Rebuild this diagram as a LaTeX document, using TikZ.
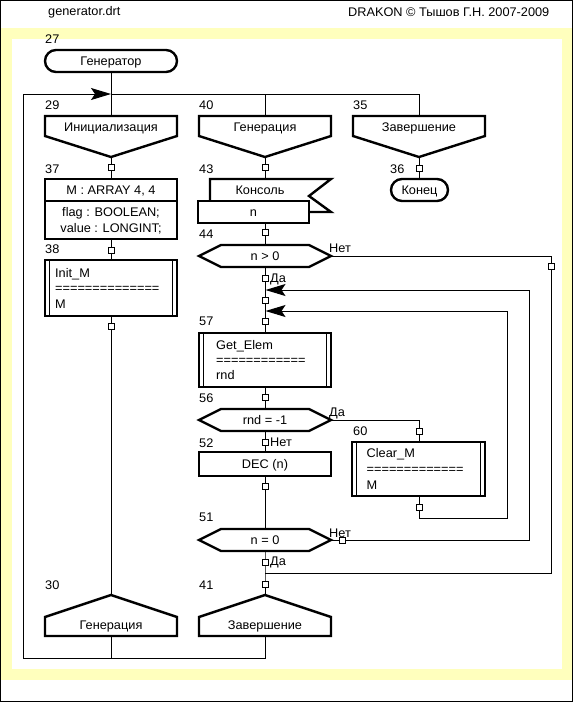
\documentclass[tikz,border=0pt]{standalone}
\usepackage{fontspec}
\setmainfont[FakeStretch=1.02]{Liberation Sans}
\usetikzlibrary{arrows.meta}
\definecolor{bandyellow}{HTML}{FFFFBD}
\tikzset{
  box/.style={draw, line width=2.4pt, fill=white, inner sep=0pt},
  shp/.style={draw, line width=2.4pt, fill=white, line join=miter},
  inner/.style={line width=1.4pt},
  wire/.style={draw, line width=1pt},
  txt/.style={inner sep=0pt, text height=8.95pt, text depth=0pt},
  ltxt/.style={inner sep=0pt, text height=8.95pt, text depth=0pt, anchor=west},
  num/.style={inner sep=0pt, anchor=base west},
  sq/.style={draw, line width=1pt, fill=white, minimum size=6pt, inner sep=0pt},
  arr/.style={-{Stealth[length=20pt,width=12pt,inset=4pt]}}
}
\begin{document}
\begin{tikzpicture}[x=1pt,y=-1pt,font=\fontsize{12.5}{16}\selectfont]
\useasboundingbox (0,0) rectangle (573,702);
% frame
\fill[bandyellow] (0,28) rectangle (573,680);
\fill[white] (12,39) rectangle (562,669);
\draw[line width=1pt] (0.5,0.5) rectangle (572.5,701.5);
\node[num] (title) at (48,15.5) {generator.drt};
\node[inner sep=0pt, anchor=base east] (copy) at (549.5,16.5) {DRAKON © Тышов Г.Н. 2007-2009};

% named points
\coordinate (j1) at (111,94);
\coordinate (j2) at (265,94);
\coordinate (j3) at (419,94);
\coordinate (jl) at (23,94);
\coordinate (bl) at (23,658);
\coordinate (b1) at (111,658);
\coordinate (b2) at (265,658);
\coordinate (h29b) at (111,157);
\coordinate (h40b) at (265,157);
\coordinate (h35b) at (419,157);
\coordinate (h29t) at (111,116);
\coordinate (h40t) at (265,116);
\coordinate (h35t) at (419,116);
\coordinate (a30t) at (111,595);
\coordinate (a41t) at (265,595);
\coordinate (a30b) at (111,636);
\coordinate (a41b) at (265,636);
\coordinate (k43t) at (265,179);
\coordinate (io43b) at (265,223);
\coordinate (q44t) at (265,245);
\coordinate (q44b) at (265,267);
\coordinate (q44r) at (331,256);
\coordinate (q56t) at (265,409);
\coordinate (q56b) at (265,431);
\coordinate (q56r) at (331,420);
\coordinate (q51t) at (265,529);
\coordinate (q51b) at (265,551);
\coordinate (q51r) at (331,540);
\coordinate (r1) at (551,256);
\coordinate (r1b) at (551,573);
\coordinate (m1) at (265,573);
\coordinate (r2) at (529,540);
\coordinate (r2t) at (529,290);
\coordinate (m2) at (265.5,290);
\coordinate (r3) at (507,518);
\coordinate (r3t) at (507,311);
\coordinate (m3) at (265.5,311);
\coordinate (c60) at (419,518);
\coordinate (d60) at (419,420);

% wires
\draw[wire] (111,72) -- (j1);
\draw[wire, arr] (a41b) -- (b2) -- (bl) -- (jl) -- (j1);
\draw[wire] (a30b) -- (b1);
\draw[wire] (j1) -- (j3) -- (h35t);
\draw[wire] (j1) -- (h29t);
\draw[wire] (j2) -- (h40t);
\draw[wire] (h29b) -- (111,179);
\draw[wire] (111,239) -- (111,260);
\draw[wire] (111,316) -- (a30t);
\draw[wire] (h40b) -- (k43t);
\draw[wire] (io43b) -- (q44t);
\draw[wire] (q44b) -- (265,333);
\draw[wire] (265,387) -- (q56t);
\draw[wire] (q56b) -- (265,452);
\draw[wire] (265,476) -- (q51t);
\draw[wire] (q51b) -- (m1) -- (a41t);
\draw[wire] (h35b) -- (419,179);
\draw[wire] (q44r) -- (r1) -- (r1b) -- (m1);
\draw[wire, arr] (q51r) -- (r2) -- (r2t) -- (m2);
\draw[wire] (q56r) -- (d60) -- (419,442);
\draw[wire, arr] (419,496) -- (c60) -- (r3) -- (r3t) -- (m3);

% start
\node[box, txt, rounded corners=11pt, minimum width=132pt, minimum height=22pt] (s27) at (111,61) {Генератор};
\node[num] (n27) at (45,43.5) {27};

% headers
\draw[shp] (45,116) -- (177,116) -- (177,136) -- (h29b) -- (45,136) -- cycle;
\draw[shp] (199,116) -- (331,116) -- (331,136) -- (h40b) -- (199,136) -- cycle;
\draw[shp] (353,116) -- (485,116) -- (485,136) -- (h35b) -- (353,136) -- cycle;
\node[txt] (h29) at (111,127.5) {Инициализация};
\node[txt] (h40) at (265,127.5) {Генерация};
\node[txt] (h35) at (419,127.5) {Завершение};
\node[num] (n29) at (45,109.5) {29};
\node[num] (n40) at (199,109.5) {40};
\node[num] (n35) at (353,109.5) {35};

% addresses
\draw[shp] (45,636) -- (45,617) -- (a30t) -- (177,617) -- (177,636) -- cycle;
\draw[shp] (199,636) -- (199,617) -- (a41t) -- (331,617) -- (331,636) -- cycle;
\node[txt] (a30) at (111,625) {Генерация};
\node[txt] (a41) at (265,625) {Завершение};
\node[num] (n30) at (45,589) {30};
\node[num] (n41) at (199,589) {41};

% 37 shelf
\node[box, minimum width=132pt, minimum height=60pt] (b37) at (111,209) {};
\draw[line width=1.6pt] (45,201) -- (177,201);
\node[txt] (t37a) at (111,190.5) {M : ARRAY 4, 4};
\node[txt] (t37b) at (111,212) {flag : BOOLEAN;};
\node[txt] (t37c) at (111,228.5) {value : LONGINT;};
\node[num] (n37) at (45,173) {37};

% 38 insertion
\node[box, minimum width=132pt, minimum height=56pt] (b38) at (111,288) {};
\draw[inner] (49.5,260) -- (49.5,316) (172.5,260) -- (172.5,316);
\node[ltxt] (t38a) at (55,272.8) {Init\_M};
\node[ltxt] (t38b) at (55,288) {==============};
\node[ltxt] (t38c) at (55,304.5) {M};
\node[num] (n38) at (45,253.5) {38};

% 43 console
\draw[shp] (210,201) -- (210,179) -- (331,179) -- (309,196) -- (331,212) -- (305,212);
\node[box, txt, minimum width=111pt, minimum height=22pt] (io43) at (253.5,212) {n};
\node[txt] (k43) at (260,190) {Консоль};
\node[num] (n43) at (199,173) {43};

% 44 question
\draw[shp] (199,256) -- (221,245) -- (309,245) -- (q44r) -- (309,267) -- (221,267) -- cycle;
\node[txt] (q44) at (265,256) {n > 0};
\node[num] (n44) at (199,238.5) {44};
\node[num] (no44) at (329,252.5) {Нет};
\node[num] (yes44) at (270,282.5) {Да};

% 57 insertion
\node[box, minimum width=132pt, minimum height=54pt] (b57) at (265,360) {};
\draw[inner] (203.5,333) -- (203.5,387) (326.5,333) -- (326.5,387);
\node[ltxt] (t57a) at (216,345) {Get\_Elem};
\node[ltxt] (t57b) at (216,360) {============};
\node[ltxt] (t57c) at (216,375.5) {rnd};
\node[num] (n57) at (199,325.5) {57};

% 56 question
\draw[shp] (199,420) -- (221,409) -- (309,409) -- (q56r) -- (309,431) -- (221,431) -- cycle;
\node[txt] (q56) at (265,420) {rnd = -1};
\node[num] (n56) at (199,402) {56};
\node[num] (yes56) at (329,416) {Да};
\node[num] (no56) at (270,446) {Нет};

% 52 action
\node[box, txt, minimum width=132pt, minimum height=24pt] (b52) at (265,464) {DEC (n)};
\node[num] (n52) at (199,447) {52};

% 51 question
\draw[shp] (199,540) -- (221,529) -- (309,529) -- (q51r) -- (309,551) -- (221,551) -- cycle;
\node[txt] (q51) at (265,540) {n = 0};
\node[num] (n51) at (199,521) {51};
\node[num] (no51) at (329,537) {Нет};
\node[num] (yes51) at (270,565.5) {Да};

% 60 insertion
\node[box, minimum width=133pt, minimum height=54pt] (b60) at (418.5,469) {};
\draw[inner] (356.5,442) -- (356.5,496) (480.5,442) -- (480.5,496);
\node[ltxt] (t60a) at (366.5,453.3) {Clear\_M};
\node[ltxt] (t60b) at (366.5,469) {=============};
\node[ltxt] (t60c) at (366.5,485.5) {M};
\node[num] (n60) at (353,435.5) {60};

% 36 end
\node[box, txt, rounded corners=11pt, minimum width=57pt, minimum height=22pt] (e36) at (419.5,190) {Конец};
\node[num] (n36) at (390,173) {36};

% connector squares
\foreach \p in {(111,167),(111,250),(111,326),
  (265,167),(265,232),(265,278),(265,300),(265,321),(265,397),(265,442),(265,486),(265,562),(265,584),
  (419,168),(419,431),(419,507),(551,266),(342,540)}
  \node[sq] at \p {};
\end{tikzpicture}
\end{document}
